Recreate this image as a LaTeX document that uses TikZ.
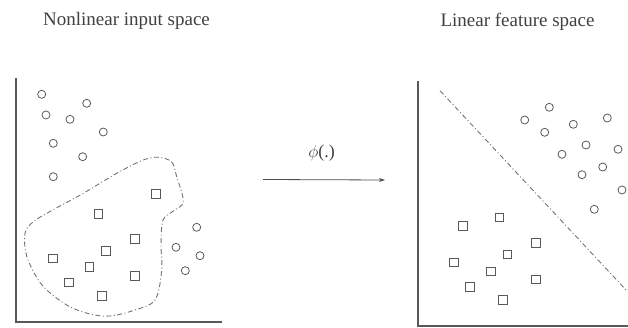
\documentclass[tikz,border=0pt]{standalone}
\usepackage{fontspec}
\setmainfont{Liberation Serif}
\usetikzlibrary{arrows.meta}
\begin{document}
\begin{tikzpicture}[x=1pt,y=-1pt,
  axisline/.style={draw=black!65,line width=1.1pt},
  pt/.style={draw=black!65,line width=0.8pt,circle,minimum size=8pt,inner sep=0pt},
  sq/.style={draw=black!65,line width=0.8pt,rectangle,minimum size=8.5pt,inner sep=0pt},
  bound/.style={draw=black!55,line width=0.9pt,dash pattern=on 5pt off 2.5pt on 1pt off 2.5pt},
  title/.style={font=\fontsize{19}{22}\selectfont,text=black!75,inner sep=0pt}
]
\useasboundingbox (0,0) rectangle (628,328);
% titles
\node[title] (t1) at (126.5,21) {Nonlinear input space};
\node[title] (t2) at (517.5,22) {Linear feature space};
% left axes
\coordinate (la) at (16,78);
\coordinate (lo) at (16,322);
\coordinate (lb) at (222,322);
\draw[axisline] (la) -- (lo) -- (lb);
% right axes
\coordinate (ra) at (418,81);
\coordinate (ro) at (418,326);
\coordinate (rb) at (628,326);
\draw[axisline] (ra) -- (ro) -- (rb);
% left circles
\foreach \x/\y [count=\i] in {41.7/94.3, 86.7/103.3, 46/115, 70/119.3, 103.3/132, 53.3/143.3, 82.7/156.7, 53.3/176.7, 196.7/227.3, 176/247.3, 200/255.7, 185.3/270.7}
  \node[pt] (lc\i) at (\x,\y) {};
% left squares
\foreach \x/\y [count=\i] in {156/194, 98.3/214, 134.7/239, 106/251, 52.7/258.3, 89.3/266.7, 134.7/276, 69/282.5, 101.7/296}
  \node[sq] (ls\i) at (\x,\y) {};
% nonlinear boundary
\draw[bound] plot[smooth cycle, tension=0.55] coordinates {
 (158.3,157.3) (171.7,162) (176.7,176.7) (183.3,201.7) (173.3,211) (163,220)
 (161,245) (161.7,270) (155,300) (133.3,310.5) (110,316) (90,314)
 (66.7,305) (42,285) (27,257) (25,233.3) (33,222) (50,211.5)
 (83.3,193.3) (116.7,173.3) (143.3,160)};
% mapping arrow
\coordinate (ma) at (263,179.5);
\coordinate (mb) at (385,180);
\draw[draw=black!70,line width=0.8pt,-{Stealth[length=6pt,width=4pt]}] (ma) -- (mb);
\node[font=\fontsize{18}{21}\selectfont,text=black!75,inner sep=0pt] (phi) at (321.7,153.5) {$\phi$(.)};
% right circles
\foreach \x/\y [count=\i] in {549.3/107.3, 524.7/120, 607.3/118, 573.3/124.3, 544.7/132.3, 586/145, 618/149.3, 562/154.3, 602.7/167, 582/174.7, 622/190, 594.3/209.3}
  \node[pt] (rc\i) at (\x,\y) {};
% right squares
\foreach \x/\y [count=\i] in {499.3/217.3, 462.7/226, 535.7/243, 507.3/254.3, 454/262.3, 490.7/271.3, 535.7/279.3, 470/287, 502.7/300}
  \node[sq] (rs\i) at (\x,\y) {};
% linear boundary
\coordinate (da) at (440,90.7);
\coordinate (db) at (627,291);
\draw[bound] (da) -- (db);
\end{tikzpicture}
\end{document}
